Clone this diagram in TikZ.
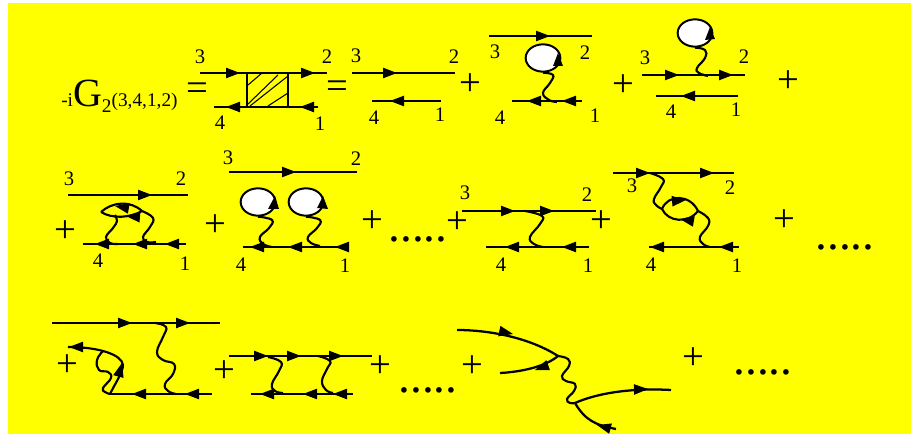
\documentclass[tikz,border=0pt]{standalone}
\usepackage{fontspec}
\setmainfont{Liberation Serif}
\usetikzlibrary{shapes.geometric}
\definecolor{bg}{RGB}{255,255,0}
\tikzset{
  lab/.style={inner sep=0pt,font=\fontsize{15.5}{16}\selectfont},
  sym/.style={inner sep=0pt,font=\fontsize{29}{30}\selectfont},
  ddd/.style={inner sep=0pt,font=\fontsize{35.5}{36}\selectfont},
  prop/.style={line width=1.7pt},
  wav/.style={line width=1.6pt},
  blob/.style={ellipse,draw=black,line width=1.5pt,fill=white,inner sep=0pt,minimum width=26pt,minimum height=20.5pt}
}
% straight propagator between two named ends
\newcommand{\pline}[3]{\coordinate (#1a) at (#2);\coordinate (#1b) at (#3);\draw[prop] (#1a) -- (#1b);}
\newcommand{\tipat}[2]{\fill[shift={(#1)},rotate=#2] (0pt,0pt) -- (-10.5pt,4pt) -- (-10.5pt,-4pt) -- cycle;}
\newcommand{\wavy}[1]{\draw[wav] plot[smooth,tension=.75] coordinates {#1};}
\newcommand{\looptip}[3]{\fill (#1) -- (#2) -- (#3) -- cycle;}
\begin{document}
\begin{tikzpicture}[x=0.75pt,y=-0.75pt]
\useasboundingbox (0,0) rectangle (911,434);
\fill[bg] (8,3) rectangle (911,434);

% title term
\node[inner sep=0pt,anchor=base west] (title) at (61,107) {\fontsize{14.5}{16}\selectfont -i\fontsize{30}{31}\selectfont G\raisebox{-4pt}{\fontsize{14.5}{16}\selectfont 2}\fontsize{14.5}{16}\selectfont(3,4,1,2)};

% labels
\foreach \x/\y/\t [count=\i] in {
 200/57/3,327/57/2,220/123/4,320/124/1,
 356/56/3,454/57/2,374/118/4,440/115/1,
 495/52/3,585/53/2,500/118/4,595/116/1,
 645/58/3,744/57/2,671/112/4,736/110/1,
 69/179/3,181/179/2,98/261/4,185/264/1,
 228/158/3,356/159/2,241/265/4,345/266/1,
 465/193/3,587/195/2,501/265/4,588/266/1,
 632/186/3,730/188/2,651/265/4,737/266/1}
 \node[lab] (lab\i) at (\x,\y) {\t};

% plus and equals signs
\foreach \x/\y [count=\i] in {470/85,623/86,788/82,65/232,215/226,372/222,457/223,601/222,784/221,67/366,224/372,380/367,472/367,693/359}
 \node[sym] (plus\i) at (\x,\y) {+};
\foreach \x/\y [count=\i] in {197/92,337/90}
 \node[sym] (eq\i) at (\x,\y) {=};
\foreach \x/\y [count=\i] in {418/239,845/247,428/390,763/372}
 \node[ddd] (dots\i) at (\x,\y) {.....};

% box diagram
\pline{A}{200,73}{327,73}\tipat{240,73}{0}\tipat{315,73}{0}
\pline{B}{318,107}{214,107}\tipat{226,107}{180}\tipat{300,107}{180}
\coordinate (bx1) at (247,73);\coordinate (bx2) at (288,73);\coordinate (bx3) at (288,107);\coordinate (bx4) at (247,107);
\draw[line width=1.3pt] (bx1) -- (bx4) (bx2) -- (bx3);
\draw[line width=.8pt] (248,85) -- (262,73) (248,104) -- (278,75) (250,106) -- (288,76) (268,106) -- (288,93);

% free lines
\pline{C}{352,73}{455,73}\tipat{397,73}{0}
\pline{D}{441,101}{372,101}\tipat{390,101}{180}

% tadpole on lower line
\pline{E}{489,36}{592,36}\tipat{550,36}{0}
\pline{F}{582,101}{512,101}\tipat{527,101}{180}\tipat{562,101}{180}
\node[blob] (L1) at (543,58) {};
\wavy{(L1.south) (553,75) (550,83) (543,93) (549,100) (557,102)}
\looptip{558,53}{553,66}{563,66}

% tadpole on upper line
\pline{G}{642,75}{745,75}\tipat{679,75}{0}\tipat{733,75}{0}
\pline{H}{738,96}{656,96}\tipat{681,96}{180}
\node[blob] (L2) at (695,33) {};
\wavy{(L2.south) (705,50) (705,58) (697,68) (699,73) (708,76)}
\looptip{710,27}{705,40}{715,39}

% row 2: bubble on lower line
\pline{J}{68,195}{188,195}\tipat{152,195}{0}
\pline{K}{186,244}{83,244}\tipat{95,244}{180}\tipat{133,244}{180}\tipat{165,244}{180}
\coordinate (bubL) at (101,212);\coordinate (bubR) at (142,211);
\draw[wav] (bubL) .. controls (112,202) and (130,200) .. (bubR);
\draw[wav] (bubL) .. controls (112,219) and (130,218) .. (bubR);
\tipat{115,206}{170}\tipat{126,216}{175}
\wavy{(115,215) (117,221) (113,228) (106,237) (110,243) (118,244)}
\wavy{(bubR) (153,218) (150,227) (143,237) (147,242) (156,242)}

% row 2: two tadpoles
\pline{M}{229,172}{357,172}\tipat{296,172}{0}
\pline{N}{346,247}{243,247}\tipat{250,247}{180}\tipat{288,247}{180}\tipat{335,247}{180}
\node[blob] (L3) at (258,202) {};
\node[blob] (L4) at (306,202) {};
\wavy{(L3.south) (272,220) (269,228) (260,237) (263,244) (272,247)}
\wavy{(L4.south) (320,220) (317,228) (308,237) (311,243) (320,246)}
\looptip{275,196}{268,209}{279,209}
\looptip{323,196}{317,208}{328,209}

% row 2: single exchange
\pline{P}{462,211}{596,211}\tipat{515,211}{0}\tipat{554,211}{0}
\pline{Q}{589,247}{486,247}\tipat{505,247}{180}\tipat{562,247}{180}
\wavy{(525,211) (542,216) (540,224) (530,237) (534,244) (543,247)}

% row 2: exchange with bubble
\pline{R}{613,173}{734,173}\tipat{650,173}{0}\tipat{714,173}{0}
\pline{S}{739,247}{649,247}\tipat{650,247}{180}\tipat{719,247}{180}
\wavy{(650,173) (663,179) (661,187) (654,199) (656,205) (662,209)}
\coordinate (bub2L) at (662,209);\coordinate (bub2R) at (698,211);
\draw[wav] (bub2L) .. controls (668,194) and (690,194) .. (bub2R);
\draw[wav] (bub2L) .. controls (668,222) and (688,224) .. (bub2R);
\tipat{686,200}{5}\tipat{680,219}{170}
\wavy{(bub2R) (708,218) (708,226) (700,237) (703,244) (710,247)}

% row 3: vertex correction
\pline{T}{52,323}{220,323}\tipat{132,323}{0}\tipat{190,323}{0}
\pline{U}{212,394}{110,394}\tipat{132,394}{180}\tipat{185,394}{180}
\wavy{(155,323) (166,327) (163,337) (157,352) (163,360) (174,364) (173,374) (165,384) (168,391) (176,394)}
\coordinate (vtxA) at (110,394);\coordinate (vtxB) at (68,347);
\draw[wav] (vtxA) .. controls (116,382) and (123,372) .. (123,365) .. controls (122,355) and (100,347) .. (vtxB);
\tipat{122,363}{75}\tipat{69,347}{180}
\wavy{(103,351) (97,360) (99,370) (108,372) (111,378) (103,388) (105,392) (110,394)}

% row 3: ladder
\pline{V}{229,356}{372,356}\tipat{268,356}{0}\tipat{301,356}{0}\tipat{343,356}{0}
\pline{W}{353,394}{251,394}\tipat{260,394}{180}\tipat{303,394}{180}\tipat{333,394}{180}
\wavy{(268,357) (281,362) (279,371) (272,384) (275,391) (283,393)}
\wavy{(318,356) (330,361) (327,369) (322,381) (326,390) (333,393)}

% row 3: curved vertices
\coordinate (vA) at (457,330);\coordinate (vB) at (558,356);\coordinate (vC) at (500,373);
\coordinate (vD) at (575,403);\coordinate (vE) at (671,390);\coordinate (vF) at (616,429);
\draw[prop] (vA) .. controls (490,330) and (530,338) .. (vB);
\draw[prop] (vB) .. controls (545,367) and (520,372) .. (vC);
\draw[prop] (vD) .. controls (600,392) and (635,388) .. (vE);
\draw[prop] (vD) .. controls (585,420) and (595,425) .. (vF);
\tipat{513,334}{-12}\tipat{535,370}{200}\tipat{648,389}{2}\tipat{597,425}{165}
\wavy{(vB) (568,359) (569,366) (562,376) (566,381) (575,384) (574,391) (567,399) (570,403) (vD)}
\end{tikzpicture}
\end{document}
